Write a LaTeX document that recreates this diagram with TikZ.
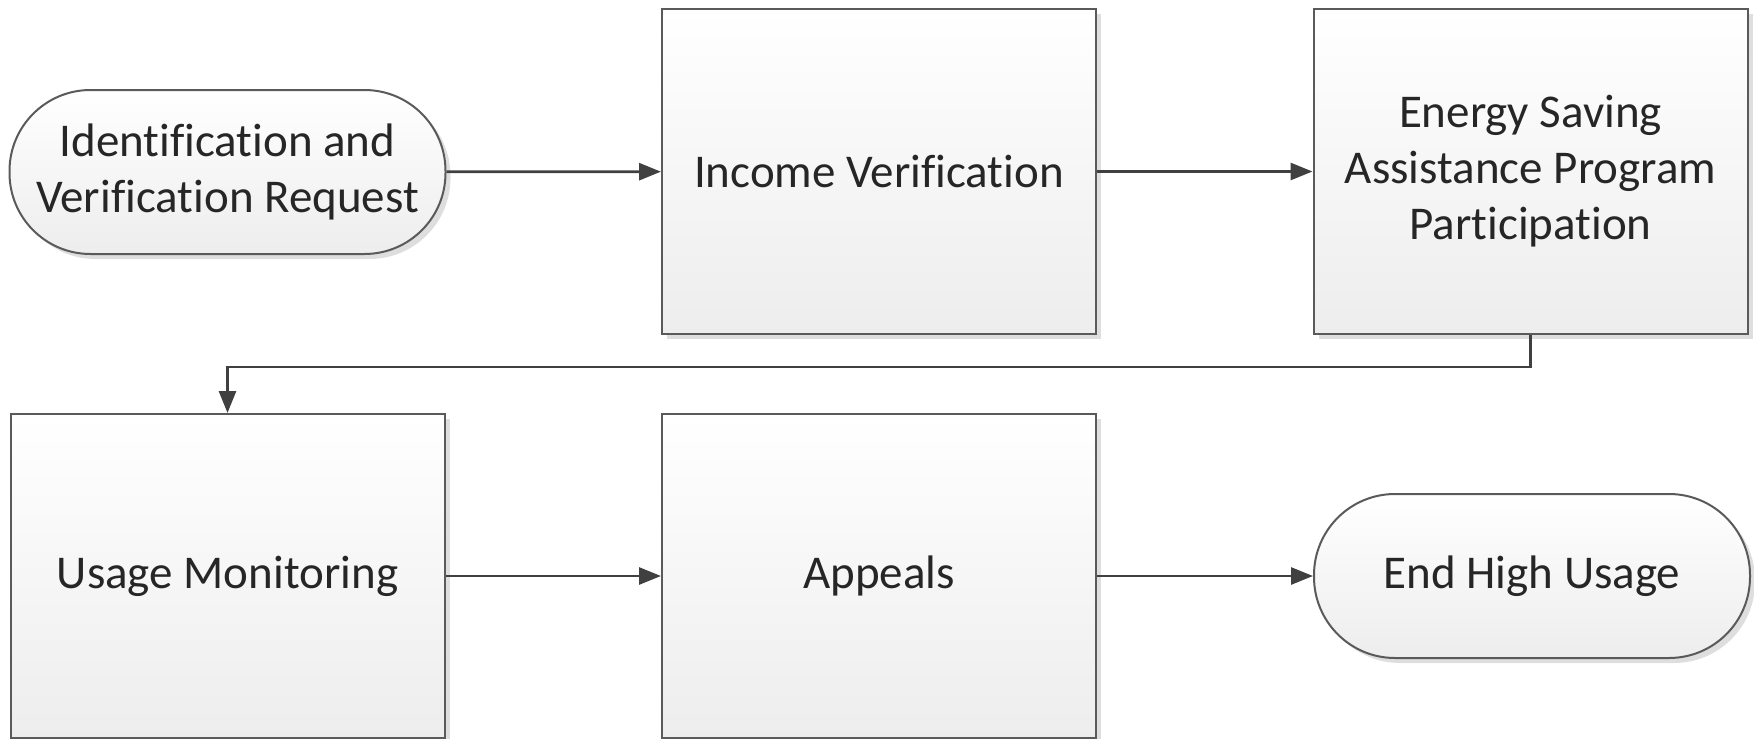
\documentclass[tikz,border=0pt]{standalone}
\usepackage{fontspec}
\setmainfont[Ligatures=NoCommon]{Carlito}
\usetikzlibrary{arrows.meta,shadows}
\definecolor{edge}{HTML}{5A5A5A}
\definecolor{conn}{HTML}{404040}
\definecolor{txt}{HTML}{262626}
\definecolor{shadowc}{HTML}{C8C8C8}
\tikzset{
  base/.style={draw=edge, line width=2pt, top color=white, bottom color=black!7,
    text=txt, align=center, inner sep=0pt,
    font=\fontsize{47}{56}\selectfont,
    drop shadow={shadow xshift=5pt, shadow yshift=-5pt, fill=shadowc, opacity=0.6}},
  procbox/.style={base, minimum width=434pt, minimum height=325pt},
  termbox/.style={base, rounded corners=81pt, minimum width=436pt, minimum height=164pt},
  conn/.style={draw=conn, line width=2.8pt, -{Triangle[length=22pt,width=17pt]}}
}
\begin{document}
\begin{tikzpicture}[x=1pt,y=-1pt]
\useasboundingbox (0,0) rectangle (1754,739);
\node[termbox] (t1) at (227.5,172) {Identification and\\Verification Request};
\node[procbox] (inc) at (879,171.5) {Income Verification};
\node[procbox] (esa) at (1530.5,171.5) {Energy Saving\\Assistance Program\\Participation};
\node[procbox, minimum height=324pt] (use) at (227.5,576) {Usage Monitoring};
\node[procbox, minimum height=324pt] (app) at (879,576) {Appeals};
\node[termbox] (end) at (1532,576) {End High Usage};
\coordinate (bend) at (0,367);
\draw[conn] (t1) -- (inc);
\draw[conn] (inc) -- (esa);
\draw[conn] (esa.south) -- (esa.south |- bend) -- (use.north |- bend) -- (use.north);
\draw[conn] (use) -- (app);
\draw[conn] (app) -- (end);
\end{tikzpicture}
\end{document}
